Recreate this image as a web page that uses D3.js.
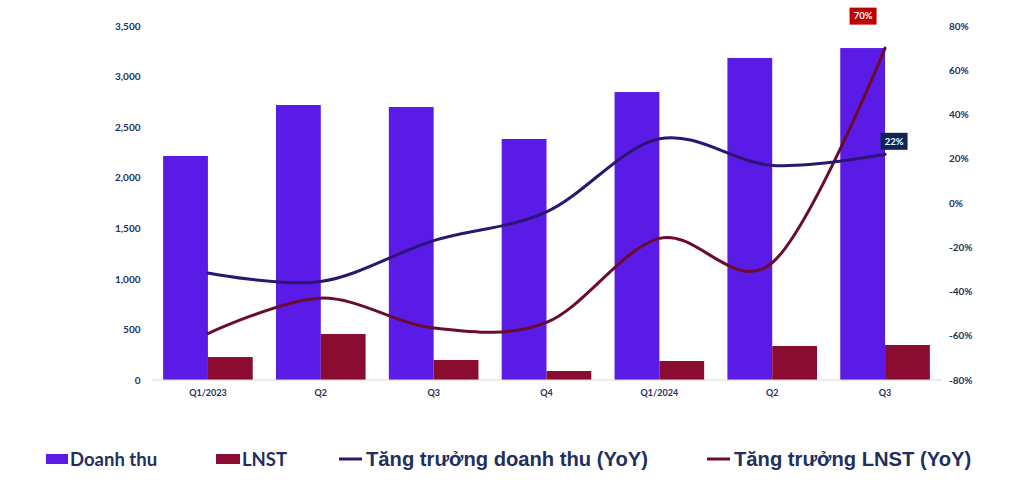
<!DOCTYPE html>
<html><head><meta charset="utf-8">
<script src="https://cdn.jsdelivr.net/npm/d3@7"></script>
<style>body{margin:0;background:#fff;} svg{display:block;}</style>
</head><body>
<svg id="c" width="1024" height="498"></svg>
<script>
const categories = ["Q1/2023","Q2","Q3","Q4","Q1/2024","Q2","Q3"];
const revenue = [2215, 2719, 2699, 2383, 2847, 3184, 3282];
const profit = [227, 455, 198, 89, 188, 336, 346];
const revenueGrowth = [-31.6, -35.5, -17, -4, 29, 17, 22];
const profitGrowth = [-59, -43, -56.5, -54, -16, -27, 70];
const leftTicks = [0,500,1000,1500,2000,2500,3000,3500];
const rightTicks = [-80,-60,-40,-20,0,20,40,60,80];
const seriesNames = ["Doanh thu","LNST","Tăng trưởng doanh thu (YoY)","Tăng trưởng LNST (YoY)"];

const C = {rev:"#5B1BE6", lnst:"#8A0C30", revLine:"#2C1672", lnstLine:"#6A0C2C", text:"#1F2F5E"};
const svg = d3.select("#c");
const pTop = 26, pBottom = 380, pLeft = 151.5, pRight = 941.5;

const x = d3.scaleBand().domain(d3.range(categories.length)).range([pLeft,pRight]).paddingInner(0.206).paddingOuter(0.103);
const x1 = d3.scaleBand().domain([0,1]).range([0,x.bandwidth()]);
const yL = d3.scaleLinear().domain([0,3500]).range([pBottom,pTop]);
const yR = d3.scaleLinear().domain([-80,80]).range([pBottom,pTop]);

// bars
const g = svg.append("g");
g.selectAll(".rb").data(revenue).join("rect")
 .attr("x",(d,i)=>x(i)+x1(0)).attr("width",x1.bandwidth())
 .attr("y",d=>yL(d)).attr("height",d=>yL(0)-yL(d)).attr("fill",C.rev);
g.selectAll(".pb").data(profit).join("rect")
 .attr("x",(d,i)=>x(i)+x1(1)).attr("width",x1.bandwidth())
 .attr("y",d=>yL(d)).attr("height",d=>yL(0)-yL(d)).attr("fill",C.lnst);

// baseline
svg.append("line").attr("x1",pLeft).attr("x2",pRight).attr("y1",yL(0)).attr("y2",yL(0))
 .attr("stroke","#D9D9D9").attr("stroke-width",1);

// axes
const font = "Lato, 'Open Sans', sans-serif";
const la = svg.append("g").attr("transform",`translate(${pLeft},0)`)
 .call(d3.axisLeft(yL).tickValues(leftTicks).tickFormat(d3.format(",")).tickSize(0).tickPadding(11));
const ra = svg.append("g").attr("transform",`translate(${pRight},0)`)
 .call(d3.axisRight(yR).tickValues(rightTicks).tickFormat(d=>(d<0?"-":"")+Math.abs(d)+"%").tickSize(0).tickPadding(7.5));
const ba = svg.append("g").attr("transform",`translate(0,${pBottom})`)
 .call(d3.axisBottom(x).tickFormat(i=>categories[i]).tickSize(0).tickPadding(10));
[la,ra,ba].forEach(a=>{
  a.select(".domain").remove();
  a.selectAll("text").attr("fill",C.text).attr("font-family",font).attr("font-weight","bold").attr("font-size","10px");
});
ba.selectAll("text").attr("font-size","9px");

// lines
const line = d3.line().x((d,i)=>x(i)+x.bandwidth()/2).y(d=>yR(d)).curve(d3.curveCatmullRom.alpha(0));
svg.append("path").datum(profitGrowth).attr("d",line).attr("fill","none").attr("stroke",C.lnstLine).attr("stroke-width",3).attr("stroke-linecap","round");
svg.append("path").datum(revenueGrowth).attr("d",line).attr("fill","none").attr("stroke",C.revLine).attr("stroke-width",3).attr("stroke-linecap","round");

// data labels
function label(val, idx, dx, dy, bg){
  const cx = x(idx)+x.bandwidth()/2 + dx, cy = yR(val) + dy;
  svg.append("rect").attr("x",cx-13.5).attr("y",cy-8.5).attr("width",27).attr("height",17).attr("fill",bg);
  svg.append("text").attr("x",cx).attr("y",cy).attr("dy","0.35em").attr("text-anchor","middle")
   .attr("fill","#fff").attr("font-family",font).attr("font-weight","bold").attr("font-size","9.5px").text(Math.round(val)+"%");
}
label(profitGrowth[6], 6, -22, -32, "#C00000");
label(revenueGrowth[6], 6, 9, -13, "#0E2656");

// legend
const lg = svg.append("g");
const ly = 459;
lg.append("rect").attr("x",46).attr("y",ly-5).attr("width",22).attr("height",10).attr("fill",C.rev);
lg.append("text").attr("x",70).attr("y",ly+7).text(seriesNames[0]).attr("font-family",font).attr("font-size","18.5px");
lg.append("rect").attr("x",216).attr("y",ly-5).attr("width",24).attr("height",10).attr("fill",C.lnst);
lg.append("text").attr("x",242).attr("y",ly+7).text(seriesNames[1]).attr("font-family",font).attr("font-size","18.5px");
lg.append("line").attr("x1",339).attr("x2",362).attr("y1",ly).attr("y2",ly).attr("stroke",C.revLine).attr("stroke-width",3);
lg.append("text").attr("x",366).attr("y",ly+7).text(seriesNames[2]).attr("font-family","'Liberation Sans', Arial, sans-serif").attr("font-size","20.2px");
lg.append("line").attr("x1",707).attr("x2",730).attr("y1",ly).attr("y2",ly).attr("stroke",C.lnstLine).attr("stroke-width",3);
lg.append("text").attr("x",734).attr("y",ly+7).text(seriesNames[3]).attr("font-family","'Liberation Sans', Arial, sans-serif").attr("font-size","20.2px");
lg.selectAll("text").attr("fill",C.text).attr("font-weight","bold");
</script>
</body></html>
